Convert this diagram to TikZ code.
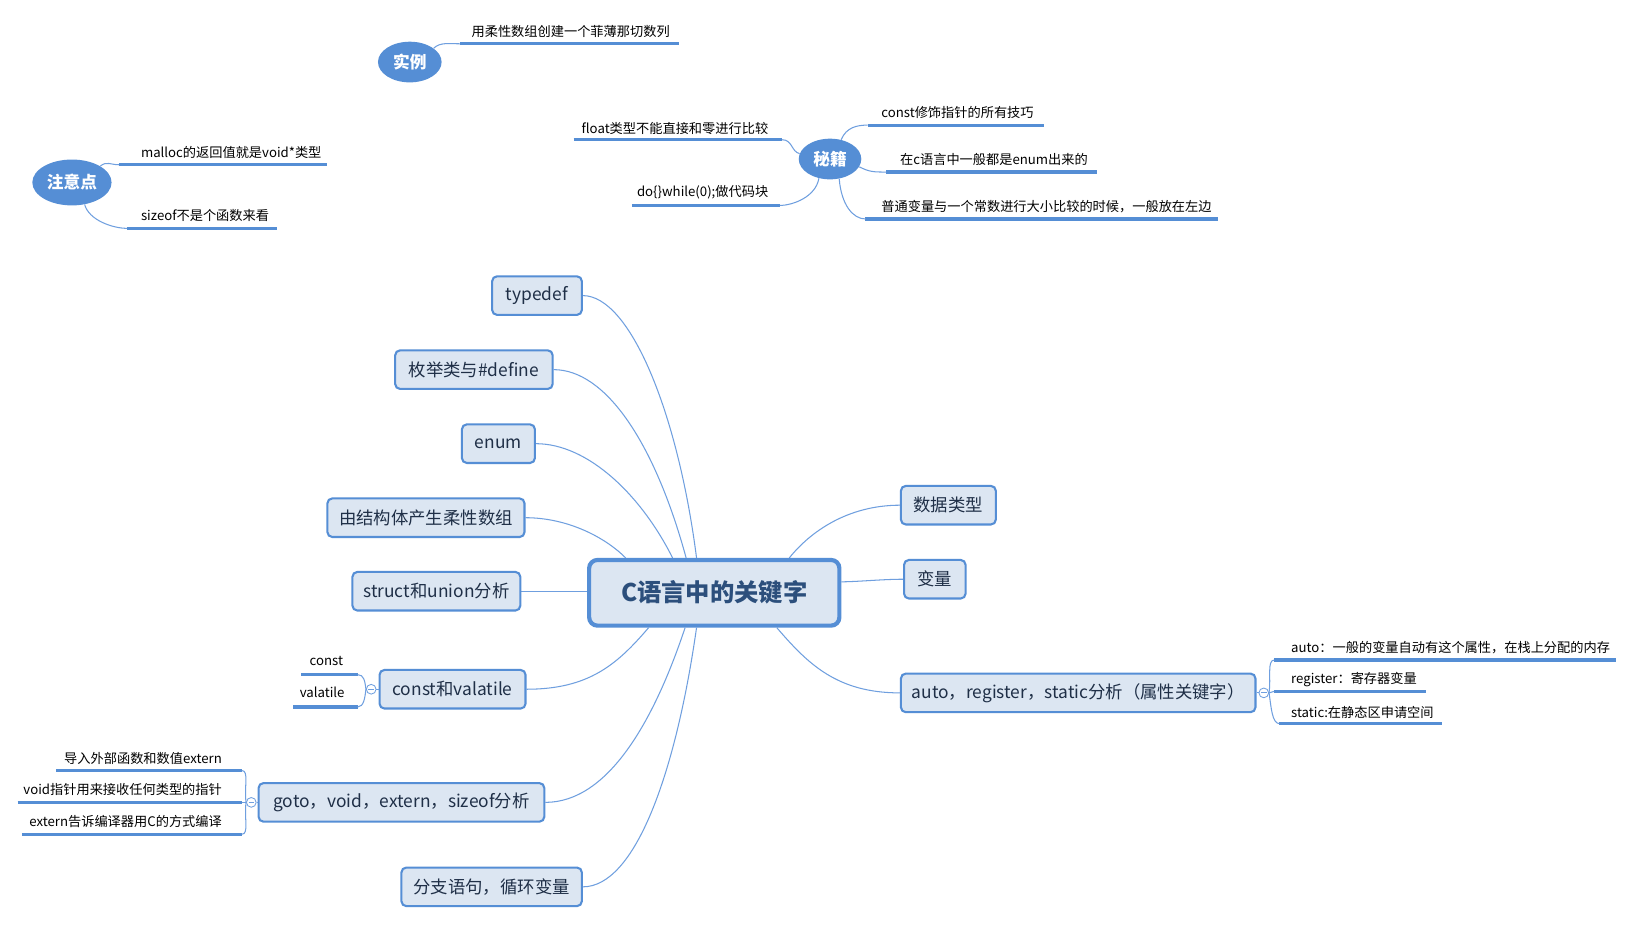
\documentclass[tikz,border=0pt]{standalone}
\usepackage{fontspec}
\setmainfont{Noto Sans CJK SC}
\usetikzlibrary{shapes.geometric,calc}
\definecolor{bd}{HTML}{558ED5}
\definecolor{fillb}{HTML}{DCE6F2}
\definecolor{ln}{HTML}{6F9FDF}
\definecolor{tx}{HTML}{1F2F47}
\definecolor{ctx}{HTML}{2C4F7C}
\pgfdeclarelayer{bg}
\pgfsetlayers{bg,main}
\begin{document}
\begin{tikzpicture}[x=0.75pt,y=-0.75pt,
 box/.style={draw=bd,fill=fillb,line width=1.5pt,rounded corners=3.5pt,minimum height=27.75pt,inner sep=0pt,font=\fontsize{12.5}{14}\selectfont,text=tx},
 central/.style={draw=bd,fill=fillb,line width=3pt,rounded corners=6pt,minimum width=180pt,minimum height=47.25pt,inner sep=0pt,font=\bfseries\fontsize{17.5}{20}\selectfont,text=ctx},
 bubble/.style={ellipse,fill=bd,inner sep=0pt,text=white,font=\bfseries\fontsize{12}{14}\selectfont},
 sub/.style={inner sep=0pt,font=\fontsize{9.5}{11}\selectfont,text=black},
 uline/.style={draw=bd,line width=2.25pt},
 conn/.style={draw=ln,line width=0.75pt},
 collapse/.style={circle,draw=ln,fill=white,line width=0.6pt,minimum size=7pt,inner sep=0pt}
]
\useasboundingbox (0,0) rectangle (1568,887);

% central
\node[central] (c) at (685,568.5) {C语言中的关键字};

% left boxes
\node[box,minimum width=64.5pt] (typedef) at (515,283.5) {typedef};
\node[box,minimum width=113.25pt] (meiju) at (454.5,354.5) {枚举类与\#define};
\node[box,minimum width=52.5pt] (enum) at (478,425.5) {enum};
\node[box,minimum width=141.75pt] (rou) at (408.5,496.5) {由结构体产生柔性数组};
\node[box,minimum width=120.75pt] (su) at (418.5,567) {struct和union分析};
\node[box,minimum width=105pt] (cv) at (434,661) {const和valatile};
\node[box,minimum width=205.5pt] (go) at (385,769.5) {goto，void，extern，sizeof分析};
\node[box,minimum width=129.75pt] (fz) at (471.5,850.5) {分支语句，循环变量};
% right boxes
\node[box,minimum width=68.25pt] (sj) at (909.5,484.5) {数据类型};
\node[box,minimum width=44.25pt] (bl) at (896.5,555.5) {变量};
\node[box,minimum width=255pt] (au) at (1034,664.5) {auto，register，static分析（属性关键字）};

\begin{pgfonlayer}{bg}
\fill[white] (0,0) rectangle (1568,887);
\draw[conn] (typedef.east) .. controls +(45,0) and +(-18,-140) .. ([xshift=-12.75pt]c.north);
\draw[conn] (meiju.east) .. controls +(50,0) and +(-30,-110) .. ([xshift=-20.25pt]c.north);
\draw[conn] (enum.east) .. controls +(50,0) and +(-30,-60) .. ([xshift=-30pt]c.north);
\draw[conn] (rou.east) .. controls +(40,0) and +(-20,-20) .. ([xshift=-63.75pt]c.north);
\draw[conn] (su.east) -- (su.east -| c.west);
\draw[conn] (cv.east) .. controls +(60,0) and +(-30,35) .. ([xshift=-47.25pt]c.south);
\draw[conn] (go.east) .. controls +(60,0) and +(-30,90) .. ([xshift=-21pt]c.south);
\draw[conn] (fz.east) .. controls +(50,0) and +(-20,140) .. ([xshift=-12.75pt]c.south);
\draw[conn] (sj.west) .. controls +(-50,0) and +(20,-25) .. ([xshift=54pt]c.north);
\draw[conn] (bl.west) .. controls +(-20,0) and +(15,0) .. ([yshift=7.9pt]c.east);
\draw[conn] (au.west) .. controls +(-60,0) and +(30,35) .. ([xshift=45pt]c.south);
\end{pgfonlayer}

% 实例
\node[bubble,minimum width=45.75pt,minimum height=29.25pt] (sl) at (393,59.5) {实例};
\node[sub,anchor=west] (sl1) at (452,30) {用柔性数组创建一个菲薄那切数列};
\coordinate (sl1a) at (441,42); \coordinate (sl1b) at (651,42);
\draw[uline] (sl1a) -- (sl1b);
\draw[conn] (sl.30) .. controls +(6,-6) and +(-10,0) .. (sl1a);

% 注意点
\node[bubble,minimum width=57pt,minimum height=33pt] (zy) at (69,175) {注意点};
\node[sub,anchor=west] (zy1) at (135,146) {malloc的返回值就是void*类型};
\coordinate (zy1a) at (114,158); \coordinate (zy1b) at (314,158);
\draw[uline] (zy1a) -- (zy1b);
\node[sub,anchor=west] (zy2) at (135,207) {sizeof不是个函数来看};
\coordinate (zy2a) at (122,219); \coordinate (zy2b) at (266,219);
\draw[uline] (zy2a) -- (zy2b);
\draw[conn] (zy.30) .. controls +(6,-5) and +(-8,0) .. (zy1a);
\draw[conn] (zy.-60) .. controls +(4,15) and +(-14,0) .. (zy2a);

% 秘籍
\node[bubble,minimum width=45pt,minimum height=29.25pt] (mj) at (796,152.5) {秘籍};
\node[sub,anchor=west] (mj1) at (845,108) {const修饰指针的所有技巧};
\coordinate (mj1a) at (832,120); \coordinate (mj1b) at (1001,120);
\draw[uline] (mj1a) -- (mj1b);
\draw[conn] (mj.60) .. controls +(5,-12) and +(-10,0) .. (mj1a);
\node[sub,anchor=west] (mj2) at (863,153) {在c语言中一般都是enum出来的};
\coordinate (mj2a) at (850,165); \coordinate (mj2b) at (1052,165);
\draw[uline] (mj2a) -- (mj2b);
\draw[conn] (mj.-15) .. controls +(10,5) and +(-12,0) .. (mj2a);
\node[sub,anchor=west] (mj3) at (845,198) {普通变量与一个常数进行大小比较的时候，一般放在左边};
\coordinate (mj3a) at (830,210); \coordinate (mj3b) at (1168,210);
\draw[uline] (mj3a) -- (mj3b);
\draw[conn] (mj.-65) .. controls +(2,25) and +(-12,0) .. (mj3a);
\node[sub,anchor=east] (mj4) at (737,123) {float类型不能直接和零进行比较};
\coordinate (mj4a) at (550,134); \coordinate (mj4b) at (750,134);
\draw[uline] (mj4a) -- (mj4b);
\draw[conn] (mj.170) .. controls +(-8,-2) and +(10,0) .. (mj4b);
\node[sub,anchor=east] (mj5) at (737,184) {do\{\}while(0);做代码块};
\coordinate (mj5a) at (606,197); \coordinate (mj5b) at (748,197);
\draw[uline] (mj5a) -- (mj5b);
\draw[conn] (mj.-120) .. controls +(-3,18) and +(12,0) .. (mj5b);

% const valatile subs
\node[collapse] (cvm) at (356,661) {};
\draw[conn] (cv.west) -- (cvm.east);
\draw[ln,line width=0.6pt] ([xshift=-2pt]cvm.center) -- ([xshift=2pt]cvm.center);
\node[sub] (cv1) at (313,634) {const};
\coordinate (cv1a) at (289,647); \coordinate (cv1b) at (343,647);
\draw[uline] (cv1a) -- (cv1b);
\node[sub] (cv2) at (309,664) {valatile};
\coordinate (cv2a) at (281,678); \coordinate (cv2b) at (343,678);
\draw[uline] (cv2a) -- (cv2b);
\draw[conn] (cv1b) .. controls +(6,0) and +(-1,-8) .. (cvm.west);
\draw[conn] (cv2b) .. controls +(6,0) and +(-1,8) .. (cvm.west);

% goto subs
\node[collapse] (gm) at (241,769.5) {};
\draw[conn] (go.west) -- (gm.east);
\draw[ln,line width=0.6pt] ([xshift=-2pt]gm.center) -- ([xshift=2pt]gm.center);
\node[sub,anchor=east] (g1) at (213,727) {导入外部函数和数值extern};
\coordinate (g1a) at (54,739); \coordinate (g1b) at (232,739);
\draw[uline] (g1a) -- (g1b);
\node[sub,anchor=east] (g2) at (213,757) {void指针用来接收任何类型的指针};
\coordinate (g2a) at (17,769.5); \coordinate (g2b) at (232,769.5);
\draw[uline] (g2a) -- (g2b);
\node[sub,anchor=east] (g3) at (213,788) {extern告诉编译器用C的方式编译};
\coordinate (g3a) at (21,800); \coordinate (g3b) at (232,800);
\draw[uline] (g3a) -- (g3b);
\draw[conn] (g1b) .. controls +(7,0) and +(-2,-14) .. (gm.west);
\draw[conn] (g2b) -- (gm.west);
\draw[conn] (g3b) .. controls +(7,0) and +(-2,14) .. (gm.west);

% auto subs
\node[collapse] (aum) at (1212,664.5) {};
\draw[conn] (au.east) -- (aum.west);
\draw[ln,line width=0.6pt] ([xshift=-2pt]aum.center) -- ([xshift=2pt]aum.center);
\node[sub,anchor=west] (a1) at (1238,621) {auto：一般的变量自动有这个属性，在栈上分配的内存};
\coordinate (a1a) at (1222,633); \coordinate (a1b) at (1550,633);
\draw[uline] (a1a) -- (a1b);
\node[sub,anchor=west] (a2) at (1238,652) {register：寄存器变量};
\coordinate (a2a) at (1222,663); \coordinate (a2b) at (1368,663);
\draw[uline] (a2a) -- (a2b);
\node[sub,anchor=west] (a3) at (1238,683) {static:在静态区申请空间};
\coordinate (a3a) at (1227,694); \coordinate (a3b) at (1383,694);
\draw[uline] (a3a) -- (a3b);
\draw[conn] (aum.east) .. controls +(2,-14) and +(-7,0) .. (a1a);
\draw[conn] (aum.east) -- (a2a);
\draw[conn] (aum.east) .. controls +(2,14) and +(-7,0) .. (a3a);
\end{tikzpicture}
\end{document}
